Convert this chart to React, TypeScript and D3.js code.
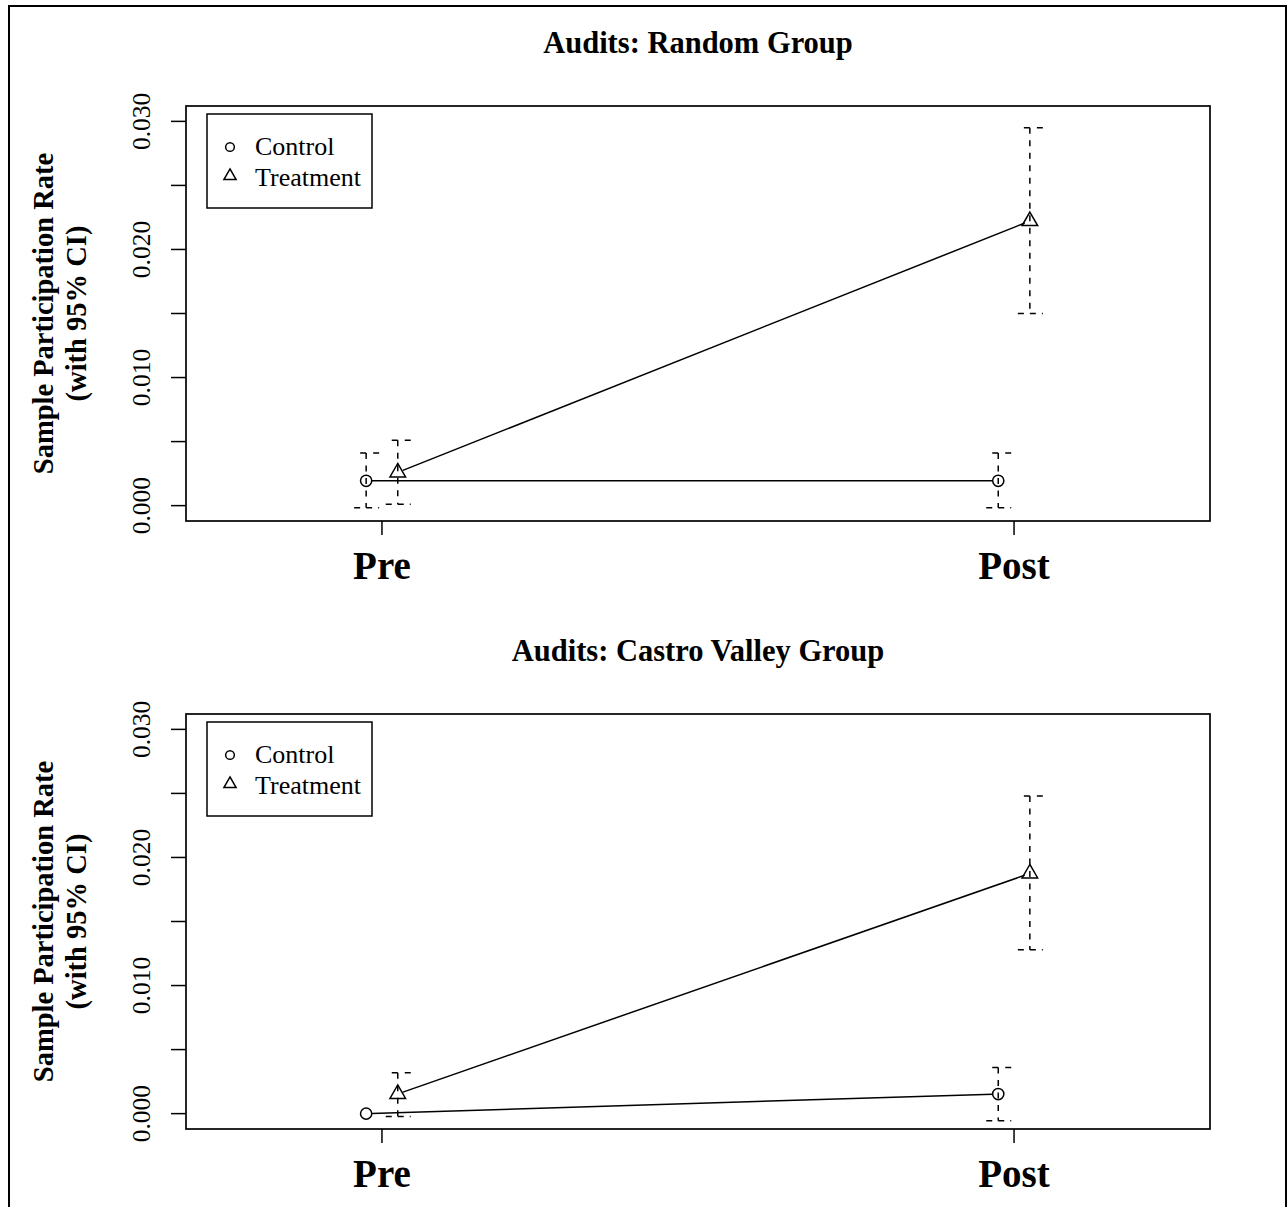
import React from "react";
import * as d3 from "d3";

const categories = ["Pre", "Post"];
const panelTitles = ["Audits: Random Group", "Audits: Castro Valley Group"];
const seriesNames = ["Control", "Treatment"];

// Random group
const randomControl = [0.00194, 0.00194];
const randomControlLo = [-0.00016, -0.00016];
const randomControlHi = [0.0041, 0.0041];
const randomTreat = [0.00259, 0.02222];
const randomTreatLo = [0.0001, 0.015];
const randomTreatHi = [0.0051, 0.0295];

// Castro Valley group
const castroControl = [0.0, 0.00153];
const castroControlLo = [0.0, -0.00055];
const castroControlHi = [0.0, 0.0036];
const castroTreat = [0.00154, 0.01875];
const castroTreatLo = [-0.00023, 0.0128];
const castroTreatHi = [0.0032, 0.0248];

const yTicks = [0, 0.005, 0.01, 0.015, 0.02, 0.025, 0.03];
const yTickLabels = ["0.000", "", "0.010", "", "0.020", "", "0.030"];

const FONT = "'Liberation Serif', 'Times New Roman', serif";

type Series = { v: number[]; lo: number[]; hi: number[]; shape: "circle" | "triangle"; dx: number };

const panels: { title: string; series: Series[] }[] = [
  {
    title: panelTitles[0],
    series: [
      { v: randomControl, lo: randomControlLo, hi: randomControlHi, shape: "circle", dx: -0.025 },
      { v: randomTreat, lo: randomTreatLo, hi: randomTreatHi, shape: "triangle", dx: 0.025 },
    ],
  },
  {
    title: panelTitles[1],
    series: [
      { v: castroControl, lo: castroControlLo, hi: castroControlHi, shape: "circle", dx: -0.025 },
      { v: castroTreat, lo: castroTreatLo, hi: castroTreatHi, shape: "triangle", dx: 0.025 },
    ],
  },
];

const SW = 1.5;

function Symbol({ shape, x, y, scale = 1 }: { shape: string; x: number; y: number; scale?: number }) {
  if (shape === "circle") {
    return <circle cx={x} cy={y} r={5.6 * scale} fill="none" stroke="#000" strokeWidth={SW} />;
  }
  const r = 9 * scale;
  const xc = r * 0.866;
  return (
    <path
      d={`M${x},${y - r}L${x + xc},${y + r / 2}L${x - xc},${y + r / 2}Z`}
      fill="none"
      stroke="#000"
      strokeWidth={SW}
    />
  );
}

function Panel({ title, series, offsetY }: { title: string; series: Series[]; offsetY: number }) {
  const left = 186, right = 1210, top = 106 + offsetY, bottom = 521 + offsetY;
  const x = d3.scaleLinear().domain([0.69, 2.31]).range([left, right]);
  const y = d3.scaleLinear().domain([-0.0012, 0.0312]).range([bottom, top]);
  const midY = (top + bottom) / 2;
  const dash = "6,6.5";
  return (
    <g>
      <text x={(left + right) / 2} y={53 + offsetY} textAnchor="middle" fontFamily={FONT} fontWeight="bold" fontSize={30.5}>
        {title}
      </text>
      <rect x={left} y={top} width={right - left} height={bottom - top} fill="none" stroke="#000" strokeWidth={1.7} />
      {/* y axis ticks */}
      {yTicks.map((t, i) => (
        <g key={i}>
          <line x1={171} x2={186} y1={y(t)} y2={y(t)} stroke="#000" strokeWidth={SW} />
          {yTickLabels[i] && (
            <text
              transform={`translate(150,${y(t)}) rotate(-90)`}
              textAnchor="middle"
              fontFamily={FONT}
              fontSize={25.5}
            >
              {yTickLabels[i]}
            </text>
          )}
        </g>
      ))}
      {/* x axis */}
      {categories.map((c, i) => (
        <g key={c}>
          <line x1={x(i + 1)} x2={x(i + 1)} y1={bottom} y2={bottom + 14} stroke="#000" strokeWidth={SW} />
          <text x={x(i + 1)} y={bottom + 58} textAnchor="middle" fontFamily={FONT} fontWeight="bold" fontSize={39}>
            {c}
          </text>
        </g>
      ))}
      {/* y label */}
      <text transform={`translate(53,${midY}) rotate(-90)`} textAnchor="middle" fontFamily={FONT} fontWeight="bold" fontSize={28.5}>
        Sample Participation Rate
      </text>
      <text transform={`translate(86,${midY}) rotate(-90)`} textAnchor="middle" fontFamily={FONT} fontWeight="bold" fontSize={28.5}>
        (with 95% CI)
      </text>
      {/* series */}
      {series.map((s, si) => {
        const pts = s.v.map((v, i) => [x(i + 1 + s.dx), y(v)] as [number, number]);
        const [p0, p1] = pts;
        const dx = p1[0] - p0[0], dy = p1[1] - p0[1];
        const len = Math.hypot(dx, dy);
        const g = 5.5;
        const ux = dx / len, uy = dy / len;
        return (
          <g key={si}>
            <line
              x1={p0[0] + ux * g}
              y1={p0[1] + uy * g}
              x2={p1[0] - ux * g}
              y2={p1[1] - uy * g}
              stroke="#000"
              strokeWidth={SW}
            />
            {s.v.map((v, i) => {
              const cx = x(i + 1 + s.dx);
              const yl = y(s.lo[i]);
              const yh = y(s.hi[i]);
              if (Math.abs(yl - yh) < 1) return null;
              return (
                <g key={i} stroke="#000" strokeWidth={SW} fill="none">
                  <line x1={cx} x2={cx} y1={yh} y2={yl} strokeDasharray={dash} />
                  <line x1={cx - 12} x2={cx + 13} y1={yh} y2={yh} strokeDasharray="6,7" strokeDashoffset={7} />
                  <line x1={cx - 12} x2={cx + 13} y1={yl} y2={yl} strokeDasharray="6,6" />
                </g>
              );
            })}
            {pts.map((p, i) => (
              <Symbol key={i} shape={s.shape} x={p[0]} y={p[1]} />
            ))}
          </g>
        );
      })}
      {/* legend */}
      <rect x={207} y={114 + offsetY} width={165} height={94} fill="none" stroke="#000" strokeWidth={SW} />
      {seriesNames.map((n, i) => (
        <g key={n}>
          <Symbol shape={i === 0 ? "circle" : "triangle"} x={230} y={i === 0 ? 147 + offsetY : 176 + offsetY} scale={0.78} />
          <text x={255} y={155 + offsetY + i * 31} fontFamily={FONT} fontSize={26}>
            {n}
          </text>
        </g>
      ))}
    </g>
  );
}

export default function App() {
  return (
    <svg
      width={1288}
      height={1207}
      style={{ position: "absolute", left: 0, top: 0, background: "#fff" }}
    >
      <rect x={0} y={0} width={1288} height={1207} fill="#fff" />
      <rect x={9} y={6} width={1277} height={1220} fill="none" stroke="#000" strokeWidth={2} />
      {panels.map((p, i) => (
        <Panel key={i} title={p.title} series={p.series} offsetY={i * 608} />
      ))}
    </svg>
  );
}
